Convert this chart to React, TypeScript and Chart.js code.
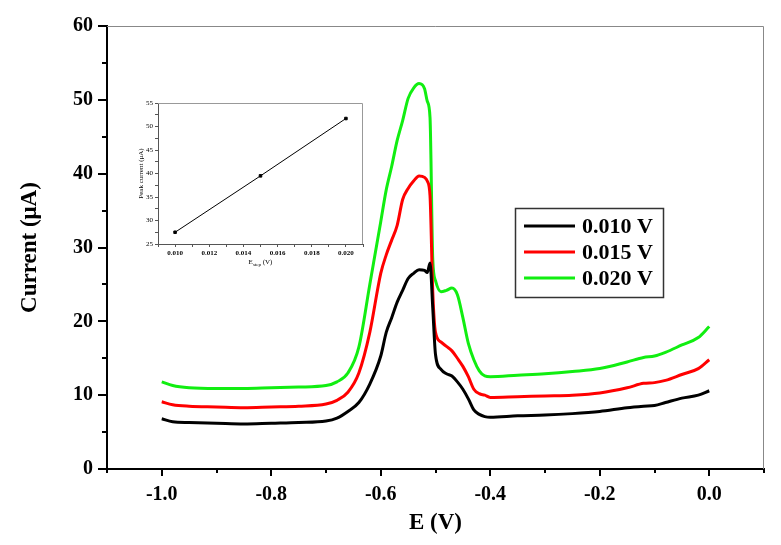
import { useEffect, useRef } from 'react'
import { Chart, registerables } from 'chart.js'

Chart.register(...registerables)

// Potential (V) sampled along the sweep
const potentials = [
  -1.0, -0.98, -0.95, -0.9, -0.85, -0.8, -0.75, -0.7, -0.68, -0.66, -0.64, -0.62, -0.6, -0.59, -0.58,
  -0.57, -0.56, -0.55, -0.54, -0.53, -0.52, -0.515, -0.51, -0.505, -0.5, -0.49, -0.48, -0.47, -0.46,
  -0.45, -0.44, -0.43, -0.42, -0.41, -0.4, -0.35, -0.3, -0.25, -0.2, -0.15, -0.12, -0.1, -0.08, -0.05,
  -0.02, 0.0,
]

// Current (µA) for each step potential
const current010 = [
  6.8, 6.4, 6.3, 6.2, 6.1, 6.2, 6.3, 6.5, 6.9, 7.8, 9.0, 11.5, 15.3, 18.5, 20.5,
  22.6, 24.2, 25.8, 26.5, 27.0, 26.9, 26.6, 27.9, 21.8, 15.5, 13.5, 12.9, 12.6, 11.8,
  10.8, 9.5, 8.0, 7.4, 7.1, 7.0, 7.2, 7.3, 7.5, 7.8, 8.3, 8.5, 8.6, 9.0, 9.6,
  10.0, 10.6,
]
const current015 = [
  9.1, 8.7, 8.5, 8.4, 8.3, 8.4, 8.5, 8.8, 9.3, 10.4, 13.0, 18.5, 26.5, 29.0, 31.0,
  33.0, 36.5, 38.0, 39.0, 39.7, 39.5, 39.0, 37.0, 24.0, 18.5, 17.2, 16.6, 16.0, 15.0,
  13.9, 12.5, 10.8, 10.2, 10.0, 9.7, 9.8, 9.9, 10.0, 10.3, 11.0, 11.6, 11.7, 12.0, 12.8,
  13.6, 14.8,
]
const current020 = [
  11.8, 11.3, 11.0, 10.9, 10.9, 11.0, 11.1, 11.3, 11.8, 13.0, 16.5, 25.0, 33.5, 37.8, 41.0,
  44.5, 47.2, 50.2, 51.6, 52.2, 51.5, 49.8, 47.6, 28.4, 25.5, 24.0, 24.2, 24.5, 23.6,
  20.5, 17.0, 14.8, 13.3, 12.6, 12.5, 12.7, 12.9, 13.2, 13.6, 14.5, 15.1, 15.3, 15.8, 16.8,
  17.8, 19.3,
]
const seriesLabels = ['0.010 V', '0.015 V', '0.020 V']
const seriesColors = ['#000000', '#ff0000', '#11ee11']

// axis ticks
const xTicks = [-1.1, -1.0, -0.9, -0.8, -0.7, -0.6, -0.5, -0.4, -0.3, -0.2, -0.1, 0.0, 0.1]
const yTicks = [0, 5, 10, 15, 20, 25, 30, 35, 40, 45, 50, 55, 60]

// inset: peak current vs step potential
const stepPotentials = [0.01, 0.015, 0.02]
const peakCurrents = [27.5, 39.5, 51.7]
const insetXTicks = [0.009, 0.01, 0.011, 0.012, 0.013, 0.014, 0.015, 0.016, 0.017, 0.018, 0.019, 0.02, 0.021]
const insetYTicks = [25, 27.5, 30, 32.5, 35, 37.5, 40, 42.5, 45, 47.5, 50, 52.5, 55]

const SERIF = '"Liberation Serif", "Times New Roman", serif'

const frameLines = (color: string) => ({
  id: 'frameLines',
  beforeDatasetsDraw(chart: any) {
    const { ctx, chartArea: a } = chart
    ctx.save()
    ctx.strokeStyle = color
    ctx.lineWidth = 1
    ctx.beginPath()
    ctx.moveTo(a.left, a.top + 0.5)
    ctx.lineTo(a.right - 0.5, a.top + 0.5)
    ctx.lineTo(a.right - 0.5, a.bottom)
    ctx.stroke()
    ctx.restore()
  },
})

// outward tick marks, longer on labelled values
const tickMarks = {
  id: 'tickMarks',
  afterDraw(chart: any) {
    const { ctx, chartArea: a, scales } = chart
    ctx.save()
    ctx.strokeStyle = '#000'
    ctx.lineWidth = 2
    yTicks.forEach(v => {
      const y = Math.round(scales.y.getPixelForValue(v))
      const len = v % 10 === 0 ? 9 : 5
      ctx.beginPath()
      ctx.moveTo(a.left, y)
      ctx.lineTo(a.left - len, y)
      ctx.stroke()
    })
    xTicks.forEach(v => {
      const x = Math.round(scales.x.getPixelForValue(v))
      const len = Math.round(v * 10) % 2 === 0 ? 7 : 4
      ctx.beginPath()
      ctx.moveTo(x, a.bottom)
      ctx.lineTo(x, a.bottom + len)
      ctx.stroke()
    })
    ctx.restore()
  },
}

const boxLegend = {
  id: 'boxLegend',
  afterDraw(chart: any) {
    const { ctx } = chart
    ctx.save()
    ctx.strokeStyle = '#333'
    ctx.lineWidth = 1.5
    ctx.strokeRect(515.5, 208.5, 148, 89)
    ctx.font = `bold 22px ${SERIF}`
    ctx.textBaseline = 'middle'
    ctx.fillStyle = '#000'
    chart.data.datasets.forEach((ds: any, i: number) => {
      const y = 226 + i * 26
      ctx.strokeStyle = ds.borderColor
      ctx.lineWidth = 3
      ctx.beginPath()
      ctx.moveTo(524, y)
      ctx.lineTo(575, y)
      ctx.stroke()
      ctx.fillText(ds.label, 582, y + 1)
    })
    ctx.restore()
  },
}

const subscriptTitle = {
  id: 'subscriptTitle',
  afterDraw(chart: any) {
    const { ctx, chartArea: a } = chart
    const cx = (a.left + a.right) / 2
    const y = a.bottom + 20
    ctx.save()
    ctx.fillStyle = '#000'
    ctx.textBaseline = 'alphabetic'
    ctx.font = `7px ${SERIF}`
    const w1 = ctx.measureText('E').width
    const w3 = ctx.measureText(' (V)').width
    ctx.font = `5px ${SERIF}`
    const w2 = ctx.measureText('step').width
    let x = cx - (w1 + w2 + w3) / 2
    ctx.font = `7px ${SERIF}`
    ctx.fillText('E', x, y)
    x += w1
    ctx.font = `5px ${SERIF}`
    ctx.fillText('step', x, y + 2)
    x += w2
    ctx.font = `7px ${SERIF}`
    ctx.fillText(' (V)', x, y)
    ctx.restore()
  },
}

export default function App() {
  const mainRef = useRef<HTMLCanvasElement>(null)
  const insetRef = useRef<HTMLCanvasElement>(null)

  useEffect(() => {
    document.body.style.margin = '0'
    if (!mainRef.current || !insetRef.current) return

    const toPoints = (ys: number[]) => potentials.map((x, i) => ({ x, y: ys[i] }))
    const series = [current010, current015, current020]

    const main = new Chart(mainRef.current, {
      type: 'line',
      data: {
        datasets: series.map((ys, i) => ({
          label: seriesLabels[i],
          data: toPoints(ys),
          borderColor: seriesColors[i],
          borderWidth: 3,
          pointRadius: 0,
          cubicInterpolationMode: 'monotone' as const,
          fill: false,
        })),
      },
      options: {
        animation: false,
        responsive: false,
        layout: { padding: { top: 14, right: 17, left: 0, bottom: 0 } },
        plugins: { legend: { display: false }, tooltip: { enabled: false } },
        scales: {
          x: {
            type: 'linear',
            min: -1.1,
            max: 0.1,
            afterBuildTicks: (scale: any) => {
              scale.ticks = xTicks.map(value => ({ value }))
            },
            afterFit: (scale: any) => {
              scale.height = 76
            },
            grid: { display: true, drawOnChartArea: false, drawTicks: false },
            border: { color: '#000', width: 2 },
            ticks: {
              autoSkip: false,
              maxRotation: 0,
              padding: 14,
              color: '#000',
              font: { family: SERIF, size: 20, weight: 'bold' },
              callback: (v: any) => (Math.round(Number(v) * 10) % 2 === 0 ? Number(v).toFixed(1) : ''),
            },
            title: {
              display: true,
              text: 'E (V)',
              color: '#000',
              font: { family: SERIF, size: 23, weight: 'bold' },
              padding: { top: 0, bottom: 8 },
            },
          },
          y: {
            type: 'linear',
            min: 0,
            max: 60,
            afterBuildTicks: (scale: any) => {
              scale.ticks = yTicks.map(value => ({ value }))
            },
            afterFit: (scale: any) => {
              scale.width = 107
            },
            grid: { display: true, drawOnChartArea: false, drawTicks: false },
            border: { color: '#000', width: 2 },
            ticks: {
              autoSkip: false,
              padding: 14,
              color: '#000',
              font: { family: SERIF, size: 20, weight: 'bold' },
              callback: (v: any) => (Number(v) % 10 === 0 ? String(v) : ''),
            },
            title: {
              display: true,
              text: 'Current (μA)',
              color: '#000',
              font: { family: SERIF, size: 23, weight: 'bold' },
              padding: { top: 16, bottom: 0 },
            },
          },
        },
      },
      plugins: [frameLines('#888'), tickMarks, boxLegend],
    })

    const inset = new Chart(insetRef.current, {
      type: 'line',
      data: {
        datasets: [
          {
            label: 'Peak current',
            data: stepPotentials.map((x, i) => ({ x, y: peakCurrents[i] })),
            borderColor: '#000',
            backgroundColor: '#000',
            borderWidth: 1,
            pointStyle: 'rect',
            pointRadius: 1.8,
            tension: 0,
          },
        ],
      },
      options: {
        animation: false,
        responsive: false,
        layout: { padding: { top: 8, right: 12, left: 0, bottom: 0 } },
        plugins: { legend: { display: false }, tooltip: { enabled: false } },
        scales: {
          x: {
            type: 'linear',
            min: 0.009,
            max: 0.021,
            afterBuildTicks: (scale: any) => {
              scale.ticks = insetXTicks.map(value => ({ value }))
            },
            afterFit: (scale: any) => {
              scale.height = 31
            },
            grid: { display: true, drawOnChartArea: false, tickLength: 3, color: '#555' },
            border: { color: '#555', width: 1 },
            ticks: {
              autoSkip: false,
              maxRotation: 0,
              padding: 2,
              color: '#000',
              font: { family: SERIF, size: 7, weight: 'bold' },
              callback: (v: any) => (Math.round(Number(v) * 1000) % 2 === 0 ? Number(v).toFixed(3) : ''),
            },
          },
          y: {
            type: 'linear',
            min: 25,
            max: 55,
            afterBuildTicks: (scale: any) => {
              scale.ticks = insetYTicks.map(value => ({ value }))
            },
            afterFit: (scale: any) => {
              scale.width = 28
            },
            grid: { display: true, drawOnChartArea: false, tickLength: 3, color: '#555' },
            border: { color: '#555', width: 1 },
            ticks: {
              autoSkip: false,
              padding: 2,
              color: '#000',
              font: { family: SERIF, size: 7 },
              callback: (v: any) => (Number(v) % 5 === 0 ? String(v) : ''),
            },
            title: {
              display: true,
              text: 'Peak current (μA)',
              color: '#000',
              font: { family: SERIF, size: 7 },
              padding: { top: 7, bottom: 0 },
            },
          },
        },
      },
      plugins: [frameLines('#999'), subscriptTitle],
    })

    return () => {
      main.destroy()
      inset.destroy()
    }
  }, [])

  return (
    <div style={{ position: 'relative', width: 781, height: 545, background: '#fff' }}>
      <canvas ref={mainRef} width={781} height={545} style={{ position: 'absolute', left: 0, top: 0 }} />
      <canvas ref={insetRef} width={245} height={180} style={{ position: 'absolute', left: 130, top: 95 }} />
    </div>
  )
}
